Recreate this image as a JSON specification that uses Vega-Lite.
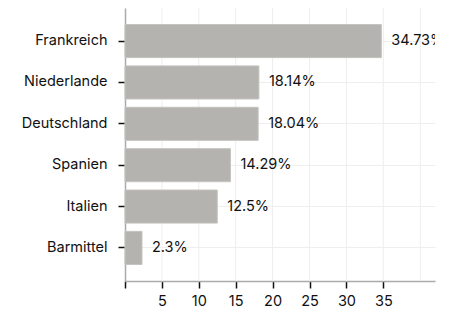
{
  "$schema": "https://vega.github.io/schema/vega-lite/v6.json",
  "width": 310,
  "height": 273,
  "autosize": {"type": "none"},
  "padding": {"left": 125, "top": 8, "right": 19, "bottom": 30},
  "background": "white",
  "config": {
    "view": {"stroke": null},
    "font": "Inter",
    "axis": {"labelFont": "Inter", "labelFontSize": 14.5, "labelColor": "#111", "titleFont": "Inter"}
  },
  "data": {
    "values": [
      {"land": "Frankreich", "value": 34.73, "label": "34.73%"},
      {"land": "Niederlande", "value": 18.14, "label": "18.14%"},
      {"land": "Deutschland", "value": 18.04, "label": "18.04%"},
      {"land": "Spanien", "value": 14.29, "label": "14.29%"},
      {"land": "Italien", "value": 12.5, "label": "12.5%"},
      {"land": "Barmittel", "value": 2.3, "label": "2.3%"}
    ]
  },
  "encoding": {
    "y": {
      "field": "land",
      "type": "nominal",
      "sort": ["Frankreich", "Niederlande", "Deutschland", "Spanien", "Italien", "Barmittel"],
      "scale": {"paddingInner": 0.2, "paddingOuter": 0.4},
      "axis": {
        "title": null,
        "grid": true,
        "gridColor": "#eeeeee",
        "domainColor": "#aaaaaa",
        "domainWidth": 1.5,
        "tickColor": "#111111",
        "tickSize": 7,
        "tickWidth": 1.5,
        "labelPadding": 11
      }
    },
    "x": {
      "field": "value",
      "type": "quantitative",
      "scale": {"domain": [0, 42], "nice": false},
      "axis": {
        "title": null,
        "values": [0, 5, 10, 15, 20, 25, 30, 35],
        "labelExpr": "datum.value == 0 ? '' : datum.label",
        "grid": false,
        "domainColor": "#aaaaaa",
        "domainWidth": 1.5,
        "tickColor": "#111111",
        "tickSize": 7,
        "tickWidth": 1.5,
        "labelPadding": 6
      }
    }
  },
  "layer": [
    {
      "mark": {"type": "rule", "color": "#eeeeee", "strokeWidth": 1},
      "data": {"values": [{"g": 5}, {"g": 10}, {"g": 15}, {"g": 20}, {"g": 25}, {"g": 30}, {"g": 35}, {"g": 40}]},
      "encoding": {
        "x": {"field": "g", "type": "quantitative"},
        "y": {"value": 0},
        "y2": {"value": 273}
      }
    },
    {
      "mark": {"type": "bar", "color": "#b4b3af", "stroke": "#c4c3bf", "strokeWidth": 1}
    },
    {
      "mark": {"type": "text", "align": "left", "baseline": "middle", "dx": 10, "fontSize": 14.5, "font": "Inter", "color": "#111111", "clip": true},
      "encoding": {"text": {"field": "label"}}
    }
  ]
}
